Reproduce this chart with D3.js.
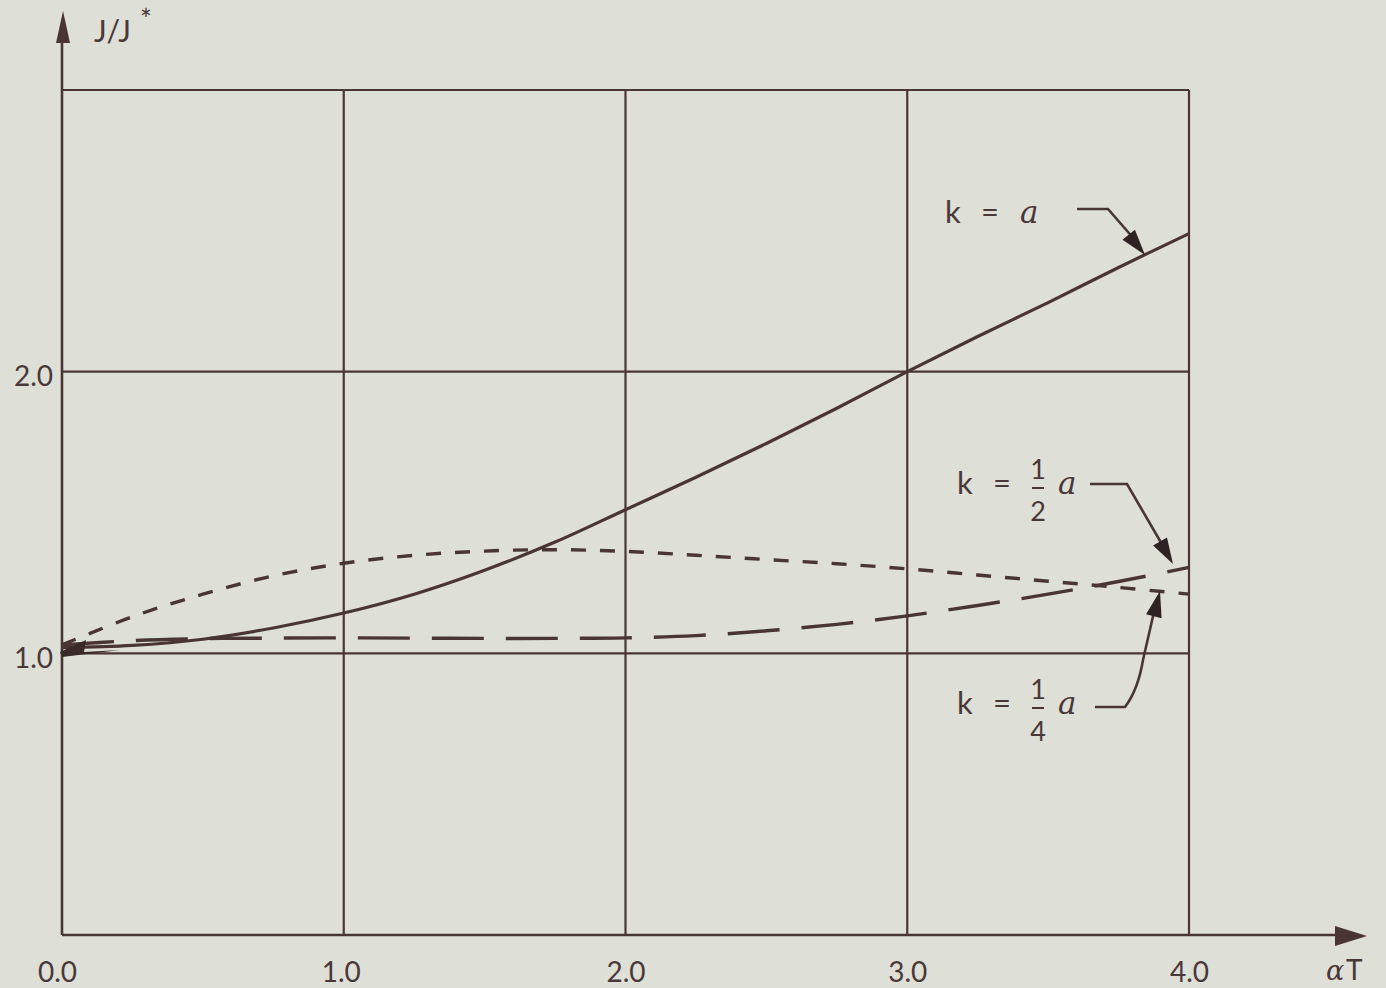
<!DOCTYPE html>
<html>
<head>
<meta charset="utf-8">
<script src="https://cdn.jsdelivr.net/npm/d3@7/dist/d3.min.js"></script>
<style>
  html, body { margin: 0; padding: 0; background: #dedfd7; }
  svg { display: block; }
  text { font-family: "Lato", "Open Sans", sans-serif; fill: #4a3838; }
</style>
</head>
<body>
<svg id="chart" width="1386" height="988"></svg>
<script>
// ---- data ----
const xValues = [0, 0.25, 0.5, 0.75, 1.0, 1.25, 1.5, 1.75, 2.0, 2.25, 2.5, 2.75, 3.0, 3.25, 3.5, 3.75, 4.0];
const seriesKa      = [1.02, 1.028, 1.05, 1.09, 1.143, 1.21, 1.295, 1.395, 1.51, 1.625, 1.745, 1.87, 2.0, 2.125, 2.245, 2.37, 2.49];
const seriesKhalf   = [1.03, 1.045, 1.052, 1.054, 1.055, 1.054, 1.053, 1.053, 1.055, 1.063, 1.08, 1.103, 1.133, 1.17, 1.21, 1.255, 1.305];
const seriesKquarter= [1.03, 1.13, 1.21, 1.275, 1.32, 1.348, 1.363, 1.368, 1.362, 1.348, 1.333, 1.318, 1.30, 1.278, 1.256, 1.234, 1.21];
const xTickLabels = ["0.0", "1.0", "2.0", "3.0", "4.0"];
const yTickLabels = ["1.0", "2.0"];
const xTicks = [0, 1, 2, 3, 4];
const yTicks = [1, 2];
const gridY = [1, 2, 3];
const gridX = [1, 2, 3, 4];

const ink = "#4a3535";
const svg = d3.select("#chart");

const x = d3.scaleLinear().domain([0, 4]).range([62, 1189]);
const y = d3.scaleLinear().domain([0, 3]).range([935, 90]);

// grid
svg.append("g").selectAll("line.h").data(gridY).join("line")
  .attr("x1", x(0)).attr("x2", x(4))
  .attr("y1", d => y(d)).attr("y2", d => y(d))
  .attr("stroke", ink).attr("stroke-width", 2.2);
svg.append("g").selectAll("line.v").data(gridX).join("line")
  .attr("x1", d => x(d)).attr("x2", d => x(d))
  .attr("y1", y(0)).attr("y2", y(3))
  .attr("stroke", ink).attr("stroke-width", 2.2);

// axes lines with arrows
svg.append("line").attr("x1", x(0)).attr("x2", 1340).attr("y1", y(0)).attr("y2", y(0))
  .attr("stroke", ink).attr("stroke-width", 2.6);
svg.append("path").attr("d", "M1367,936 L1335,926 L1335,946 Z").attr("fill", ink);
svg.append("line").attr("x1", x(0)).attr("x2", x(0)).attr("y1", y(0)).attr("y2", 38)
  .attr("stroke", ink).attr("stroke-width", 2.6);
svg.append("path").attr("d", "M63,11 L56,43 L70,43 Z").attr("fill", ink);

// tick labels via axes
const xAxis = d3.axisBottom(x).tickValues(xTicks).tickSize(0).tickPadding(27)
  .tickFormat((d, i) => xTickLabels[i]);
const gx = svg.append("g").attr("transform", `translate(0,${y(0)})`).call(xAxis);
gx.select(".domain").remove();
gx.selectAll("text").style("font-size", "28px").attr("fill", "#4a3838")
  .style("font-family", '"Lato", "Open Sans", sans-serif');
gx.selectAll(".tick").filter(d => d === 0).select("text").attr("dx", -5);
gx.selectAll(".tick").filter(d => d === 1).select("text").attr("dx", -3);

const yAxis = d3.axisLeft(y).tickValues(yTicks).tickSize(0).tickPadding(9)
  .tickFormat((d, i) => yTickLabels[i]);
const gy = svg.append("g").attr("transform", `translate(${x(0)},0)`).call(yAxis);
gy.select(".domain").remove();
gy.selectAll("text").style("font-size", "28px").attr("fill", "#4a3838").attr("dy", "0.5em")
  .style("font-family", '"Lato", "Open Sans", sans-serif');

// axis titles
svg.append("text").attr("x", 94).attr("y", 42).style("font-size", "30px").text("J/J");
svg.append("text").attr("x", 140).attr("y", 30).style("font-size", "28px").text("*");
svg.append("text").attr("x", 1326).attr("y", 980).style("font-size", "27px")
  .style("font-style", "italic").style("font-family", '"DejaVu Serif", serif').text("α");
svg.append("text").attr("x", 1346).attr("y", 980).style("font-size", "28px").text("T");

// curves
const line = d3.line().x((d, i) => x(xValues[i])).y(d => y(d)).curve(d3.curveCatmullRom.alpha(0.5));
svg.append("path").datum(seriesKa).attr("d", line)
  .attr("fill", "none").attr("stroke", ink).attr("stroke-width", 3.2);
svg.append("path").datum(seriesKhalf).attr("d", line)
  .attr("fill", "none").attr("stroke", ink).attr("stroke-width", 3.4)
  .attr("stroke-dasharray", "52,22");
svg.append("path").datum(seriesKquarter).attr("d", line)
  .attr("fill", "none").attr("stroke", ink).attr("stroke-width", 3.4)
  .attr("stroke-dasharray", "15,14");

// origin blob / arrowhead
svg.append("path").attr("d", "M60,652 L86,640 L84,652 L120,650 L62,657 Z").attr("fill", "#3a2a2a");

// annotations
function arrowHead(tipX, tipY, fromX, fromY) {
  const ang = Math.atan2(tipY - fromY, tipX - fromX);
  const L = 26, W = 8;
  const bx = tipX - L * Math.cos(ang), by = tipY - L * Math.sin(ang);
  const px = -Math.sin(ang) * W, py = Math.cos(ang) * W;
  svg.append("path").attr("d", `M${tipX},${tipY} L${bx + px},${by + py} L${bx - px},${by - py} Z`)
    .attr("fill", "#2f2222");
}
function leader(d, tipX, tipY, fromX, fromY) {
  svg.append("path").attr("d", d).attr("fill", "none").attr("stroke", ink).attr("stroke-width", 2.6);
  arrowHead(tipX, tipY, fromX, fromY);
}

const fs = "31px";
function kLabel(xk, base, frac) {
  svg.append("text").attr("x", xk).attr("y", base).style("font-size", fs).text("k");
  svg.append("text").attr("x", xk + 36).attr("y", base).style("font-size", fs).text("=");
  if (frac) {
    svg.append("text").attr("x", xk + 81).attr("y", base - 15).attr("text-anchor", "middle")
      .style("font-size", "27px").text("1");
    svg.append("line").attr("x1", xk + 75).attr("x2", xk + 87).attr("y1", base - 6).attr("y2", base - 6)
      .attr("stroke", ink).attr("stroke-width", 2);
    svg.append("text").attr("x", xk + 81).attr("y", base + 27).attr("text-anchor", "middle")
      .style("font-size", "27px").text(frac);
    svg.append("text").attr("x", xk + 101).attr("y", base).style("font-size", fs)
      .style("font-style", "italic").style("font-family", '"DejaVu Serif", serif').text("a");
  } else {
    svg.append("text").attr("x", xk + 75).attr("y", base).style("font-size", fs)
      .style("font-style", "italic").style("font-family", '"DejaVu Serif", serif').text("a");
  }
}

kLabel(945, 223, null);
leader("M1077,209 L1108,209 L1135,240", 1145, 255, 1108, 209);

kLabel(957, 494, "2");
leader("M1090,484 L1127,484 L1163,546", 1173, 564, 1127, 484);

kLabel(957, 714, "4");
leader("M1095,707 L1125,707 Q1138,690 1143,660 L1154,612", 1160, 591, 1148, 640);
</script>
</body>
</html>
